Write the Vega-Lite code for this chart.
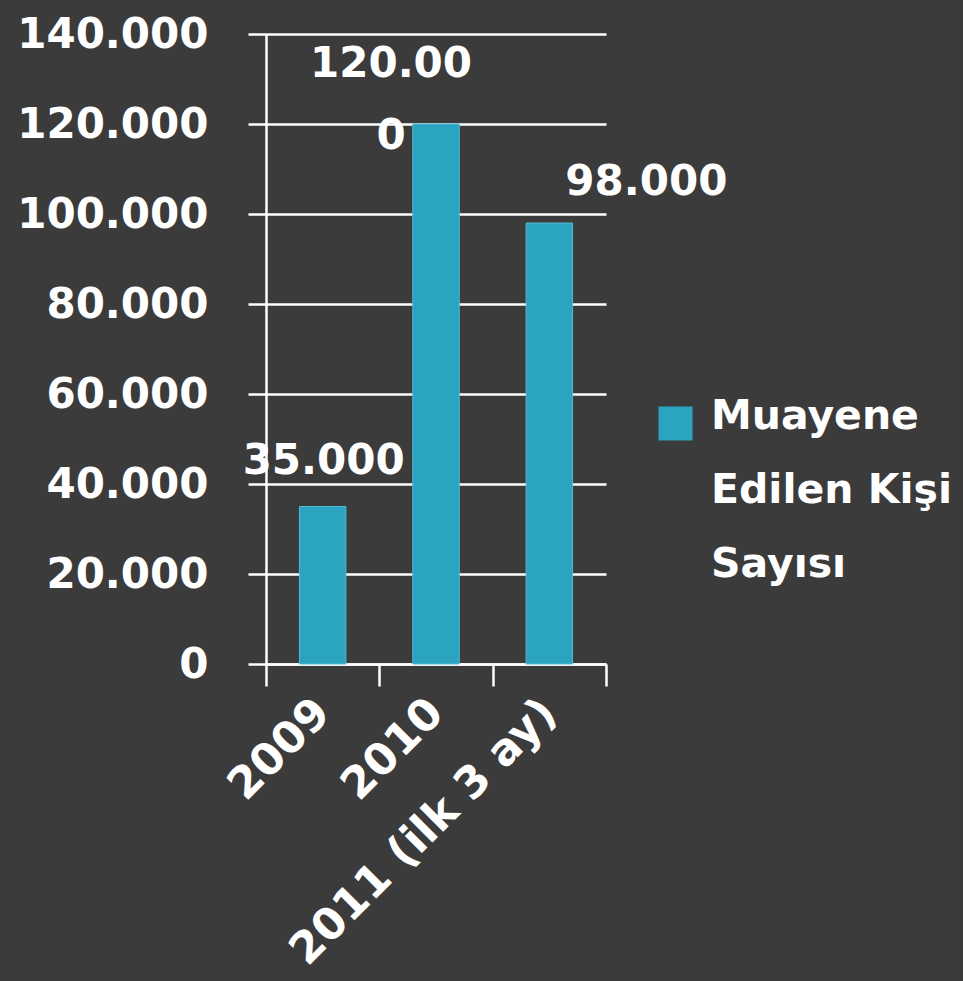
{
  "$schema": "https://vega.github.io/schema/vega-lite/v6.json",
  "width": 340,
  "height": 630,
  "autosize": {"type": "none"},
  "padding": {"left": 266, "top": 34, "right": 357, "bottom": 317},
  "background": "#3b3b3b",
  "data": {
    "values": [
      {"year": "2009", "value": 35000, "label": "35.000", "series": "Muayene\nEdilen Kişi\nSayısı"},
      {"year": "2010", "value": 120000, "label": ["120.00", "0"], "series": "Muayene\nEdilen Kişi\nSayısı"},
      {"year": "2011 (ilk 3 ay)", "value": 98000, "label": "98.000", "series": "Muayene\nEdilen Kişi\nSayısı"}
    ]
  },
  "encoding": {
    "x": {
      "field": "year", "type": "nominal", "sort": null,
      "scale": {"paddingInner": 0, "paddingOuter": 0},
      "axis": {
        "title": null, "labelAngle": -45, "labelAlign": "right", "labelBaseline": "middle",
        "tickBand": "extent", "tickSize": 22, "tickWidth": 2.5, "tickColor": "white",
        "domainColor": "white", "domainWidth": 2.5, "labelPadding": 20, "labelLimit": 0,
        "labelFont": "DejaVu Sans", "labelFontWeight": "bold", "labelFontSize": 44, "labelColor": "white"
      }
    },
    "y": {
      "field": "value", "type": "quantitative",
      "scale": {"domain": [0, 140000]},
      "axis": {
        "title": null, "values": [0, 20000, 40000, 60000, 80000, 100000, 120000, 140000],
        "labelExpr": "replace(format(datum.value, ','), /,/g, '.')",
        "grid": true, "gridColor": "white", "gridWidth": 2.5, "gridOpacity": 1,
        "tickSize": 18, "tickWidth": 2.5, "tickColor": "white",
        "domainColor": "white", "domainWidth": 2.5, "labelPadding": 40, "labelLimit": 0,
        "labelFont": "DejaVu Sans", "labelFontWeight": "bold", "labelFontSize": 42, "labelColor": "white"
      }
    }
  },
  "layer": [
    {
      "mark": {"type": "bar", "stroke": "#55b9d2", "strokeWidth": 1, "width": {"band": 0.41}},
      "encoding": {
        "color": {
          "field": "series", "type": "nominal",
          "scale": {"range": ["#2ba4c1"]},
          "legend": {
            "title": null, "orient": "none", "legendX": 389, "legendY": 374,
            "padding": 0, "symbolType": "M-1,-1.3H1V0.7H-1Z", "symbolSize": 1156, "symbolStrokeWidth": 0,
            "labelExpr": "split(datum.label, '\\n')", "labelBaseline": "alphabetic",
            "labelOffset": 15, "labelFont": "DejaVu Sans", "labelFontWeight": "bold",
            "labelFontSize": 41, "labelColor": "white", "labelLimit": 0
          }
        }
      }
    },
    {
      "transform": [{"filter": "datum.year == '2009'"}],
      "mark": {"type": "text", "font": "DejaVu Sans", "fontWeight": "bold", "fontSize": 42, "color": "white", "baseline": "alphabetic", "dx": 1, "dy": -33},
      "encoding": {"text": {"field": "label", "type": "nominal"}}
    },
    {
      "transform": [{"filter": "datum.year == '2010'"}],
      "mark": {"type": "text", "font": "DejaVu Sans", "fontWeight": "bold", "fontSize": 42, "color": "white", "baseline": "alphabetic", "dx": -45, "dy": -47, "lineHeight": 72},
      "encoding": {"text": {"field": "label", "type": "nominal"}}
    },
    {
      "transform": [{"filter": "datum.year == '2011 (ilk 3 ay)'"}],
      "mark": {"type": "text", "font": "DejaVu Sans", "fontWeight": "bold", "fontSize": 42, "color": "white", "baseline": "alphabetic", "dx": 97, "dy": -28},
      "encoding": {"text": {"field": "label", "type": "nominal"}}
    }
  ],
  "config": {
    "view": {"stroke": null},
    "style": {"guide-label": {"lineHeight": 74}}
  }
}
